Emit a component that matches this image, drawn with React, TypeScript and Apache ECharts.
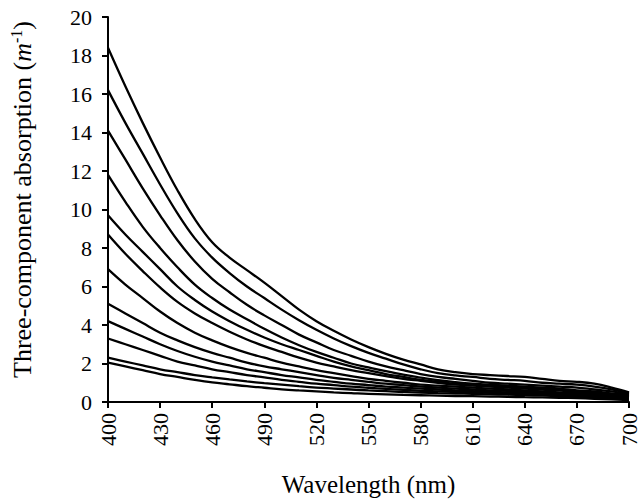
import React, { useEffect, useRef } from "react";
import * as echarts from "echarts";

const wavelengths = [400, 410, 420, 430, 440, 450, 460, 470, 480, 490, 500, 510, 520, 530, 540, 550, 560, 570, 580, 590, 600, 610, 620, 630, 640, 650, 660, 670, 680, 690, 700];

const curve1 = [18.4, 16.4, 14.5, 12.7, 11.0, 9.5, 8.3, 7.5, 6.85, 6.2, 5.5, 4.8, 4.2, 3.7, 3.25, 2.85, 2.5, 2.2, 1.95, 1.7, 1.55, 1.45, 1.4, 1.35, 1.3, 1.2, 1.1, 1.05, 0.95, 0.75, 0.5];
const curve2 = [16.2, 14.5, 12.9, 11.3, 9.8, 8.5, 7.5, 6.7, 6.0, 5.4, 4.8, 4.25, 3.75, 3.3, 2.9, 2.55, 2.25, 1.95, 1.7, 1.5, 1.38, 1.3, 1.2, 1.15, 1.1, 1.0, 0.95, 0.9, 0.8, 0.65, 0.45];
const curve3 = [14.1, 12.6, 11.1, 9.7, 8.4, 7.3, 6.4, 5.7, 5.05, 4.5, 4.0, 3.5, 3.1, 2.7, 2.4, 2.1, 1.85, 1.65, 1.45, 1.3, 1.2, 1.1, 1.0, 0.95, 0.9, 0.85, 0.8, 0.75, 0.65, 0.55, 0.4];
const curve4 = [11.8, 10.4, 9.1, 8.0, 7.0, 6.1, 5.4, 4.8, 4.3, 3.8, 3.35, 2.95, 2.6, 2.3, 2.0, 1.8, 1.6, 1.42, 1.27, 1.13, 1.03, 0.95, 0.9, 0.85, 0.8, 0.75, 0.7, 0.6, 0.55, 0.45, 0.35];
const curve5 = [9.7, 8.7, 7.8, 6.9, 6.0, 5.3, 4.7, 4.2, 3.75, 3.35, 3.0, 2.7, 2.4, 2.1, 1.85, 1.65, 1.45, 1.3, 1.15, 1.05, 0.95, 0.9, 0.85, 0.8, 0.75, 0.7, 0.65, 0.55, 0.5, 0.4, 0.3];
const curve6 = [8.7, 7.7, 6.8, 5.95, 5.2, 4.6, 4.1, 3.65, 3.25, 2.9, 2.6, 2.3, 2.05, 1.85, 1.65, 1.5, 1.35, 1.2, 1.1, 1.0, 0.9, 0.85, 0.8, 0.75, 0.7, 0.65, 0.6, 0.5, 0.45, 0.35, 0.3];
const curve7 = [6.9, 6.1, 5.4, 4.7, 4.1, 3.6, 3.2, 2.85, 2.55, 2.3, 2.05, 1.85, 1.65, 1.5, 1.35, 1.2, 1.1, 1.0, 0.9, 0.85, 0.8, 0.75, 0.7, 0.65, 0.6, 0.55, 0.5, 0.45, 0.4, 0.3, 0.25];
const curve8 = [5.1, 4.6, 4.1, 3.6, 3.2, 2.85, 2.55, 2.3, 2.05, 1.85, 1.7, 1.55, 1.4, 1.25, 1.15, 1.05, 0.95, 0.88, 0.8, 0.75, 0.7, 0.65, 0.6, 0.58, 0.55, 0.5, 0.45, 0.4, 0.35, 0.3, 0.22];
const curve9 = [4.2, 3.8, 3.4, 3.0, 2.65, 2.35, 2.1, 1.9, 1.7, 1.55, 1.4, 1.28, 1.15, 1.05, 0.95, 0.88, 0.8, 0.75, 0.7, 0.65, 0.6, 0.56, 0.52, 0.5, 0.47, 0.44, 0.4, 0.36, 0.3, 0.25, 0.2];
const curve10 = [3.3, 3.0, 2.7, 2.4, 2.1, 1.9, 1.7, 1.55, 1.4, 1.28, 1.15, 1.05, 0.95, 0.88, 0.8, 0.74, 0.68, 0.63, 0.58, 0.55, 0.52, 0.5, 0.47, 0.45, 0.42, 0.4, 0.37, 0.33, 0.28, 0.22, 0.18];
const curve11 = [2.3, 2.1, 1.9, 1.7, 1.55, 1.4, 1.28, 1.17, 1.07, 0.98, 0.9, 0.82, 0.75, 0.7, 0.65, 0.6, 0.56, 0.52, 0.49, 0.46, 0.44, 0.42, 0.4, 0.38, 0.36, 0.34, 0.31, 0.28, 0.24, 0.2, 0.15];
const curve12 = [2.05, 1.85, 1.65, 1.45, 1.3, 1.15, 1.02, 0.92, 0.82, 0.74, 0.66, 0.6, 0.55, 0.5, 0.46, 0.42, 0.4, 0.37, 0.35, 0.33, 0.31, 0.3, 0.28, 0.27, 0.25, 0.24, 0.22, 0.2, 0.17, 0.14, 0.1];

const curves = [curve1, curve2, curve3, curve4, curve5, curve6, curve7, curve8, curve9, curve10, curve11, curve12];

const FONT = "Times New Roman";

export default function App() {
  const ref = useRef<HTMLDivElement>(null);
  useEffect(() => {
    if (!ref.current) return;
    const chart = echarts.init(ref.current, null, { renderer: "svg" });
    chart.setOption({
      animation: false,
      backgroundColor: "#ffffff",
      textStyle: { fontFamily: FONT },
      grid: { left: 106, right: 9, top: 17, bottom: 95, containLabel: false },
      xAxis: {
        type: "value",
        min: 400,
        max: 700,
        interval: 30,
        name: "Wavelength (nm)",
        nameLocation: "middle",
        nameGap: 70,
        nameTextStyle: { fontFamily: FONT, fontSize: 25, color: "#000" },
        axisLine: { lineStyle: { color: "#000", width: 2 } },
        axisTick: { show: true, length: 6, lineStyle: { color: "#000", width: 2 } },
        axisLabel: { rotate: 90, margin: 11, fontFamily: FONT, fontSize: 22, color: "#000" },
        splitLine: { show: false },
      },
      yAxis: {
        type: "value",
        min: 0,
        max: 20,
        interval: 2,
        name: "{t|Three-component absorption (}{i|m}{s|-1}{t|)}",
        nameLocation: "middle",
        nameGap: 72,
        nameRotate: 90,
        nameTextStyle: {
          fontFamily: FONT,
          fontSize: 26,
          color: "#000",
          padding: [0, 0, 0, 20],
          rich: {
            t: { fontFamily: FONT, fontSize: 26, color: "#000" },
            i: { fontFamily: FONT, fontSize: 26, fontStyle: "italic", color: "#000" },
            s: { fontFamily: FONT, fontSize: 16, color: "#000", verticalAlign: "top", padding: [0, 0, 12, 0] },
          },
        },
        axisLine: { show: true, lineStyle: { color: "#000", width: 2 } },
        axisTick: { show: true, length: 6, lineStyle: { color: "#000", width: 2 } },
        axisLabel: { margin: 16, fontFamily: FONT, fontSize: 22, color: "#000" },
        splitLine: { show: false },
      },
      series: curves.map((c, k) => ({
        type: "line",
        name: "c" + (k + 1),
        data: wavelengths.map((w, i) => [w, c[i]]),
        symbol: "none",
        smooth: 0.4,
        lineStyle: { color: "#000", width: 2.3 },
      })),
    });
    return () => chart.dispose();
  }, []);
  return <div ref={ref} style={{ position: "absolute", left: 0, top: 0, width: 640, height: 502 }} />;
}
